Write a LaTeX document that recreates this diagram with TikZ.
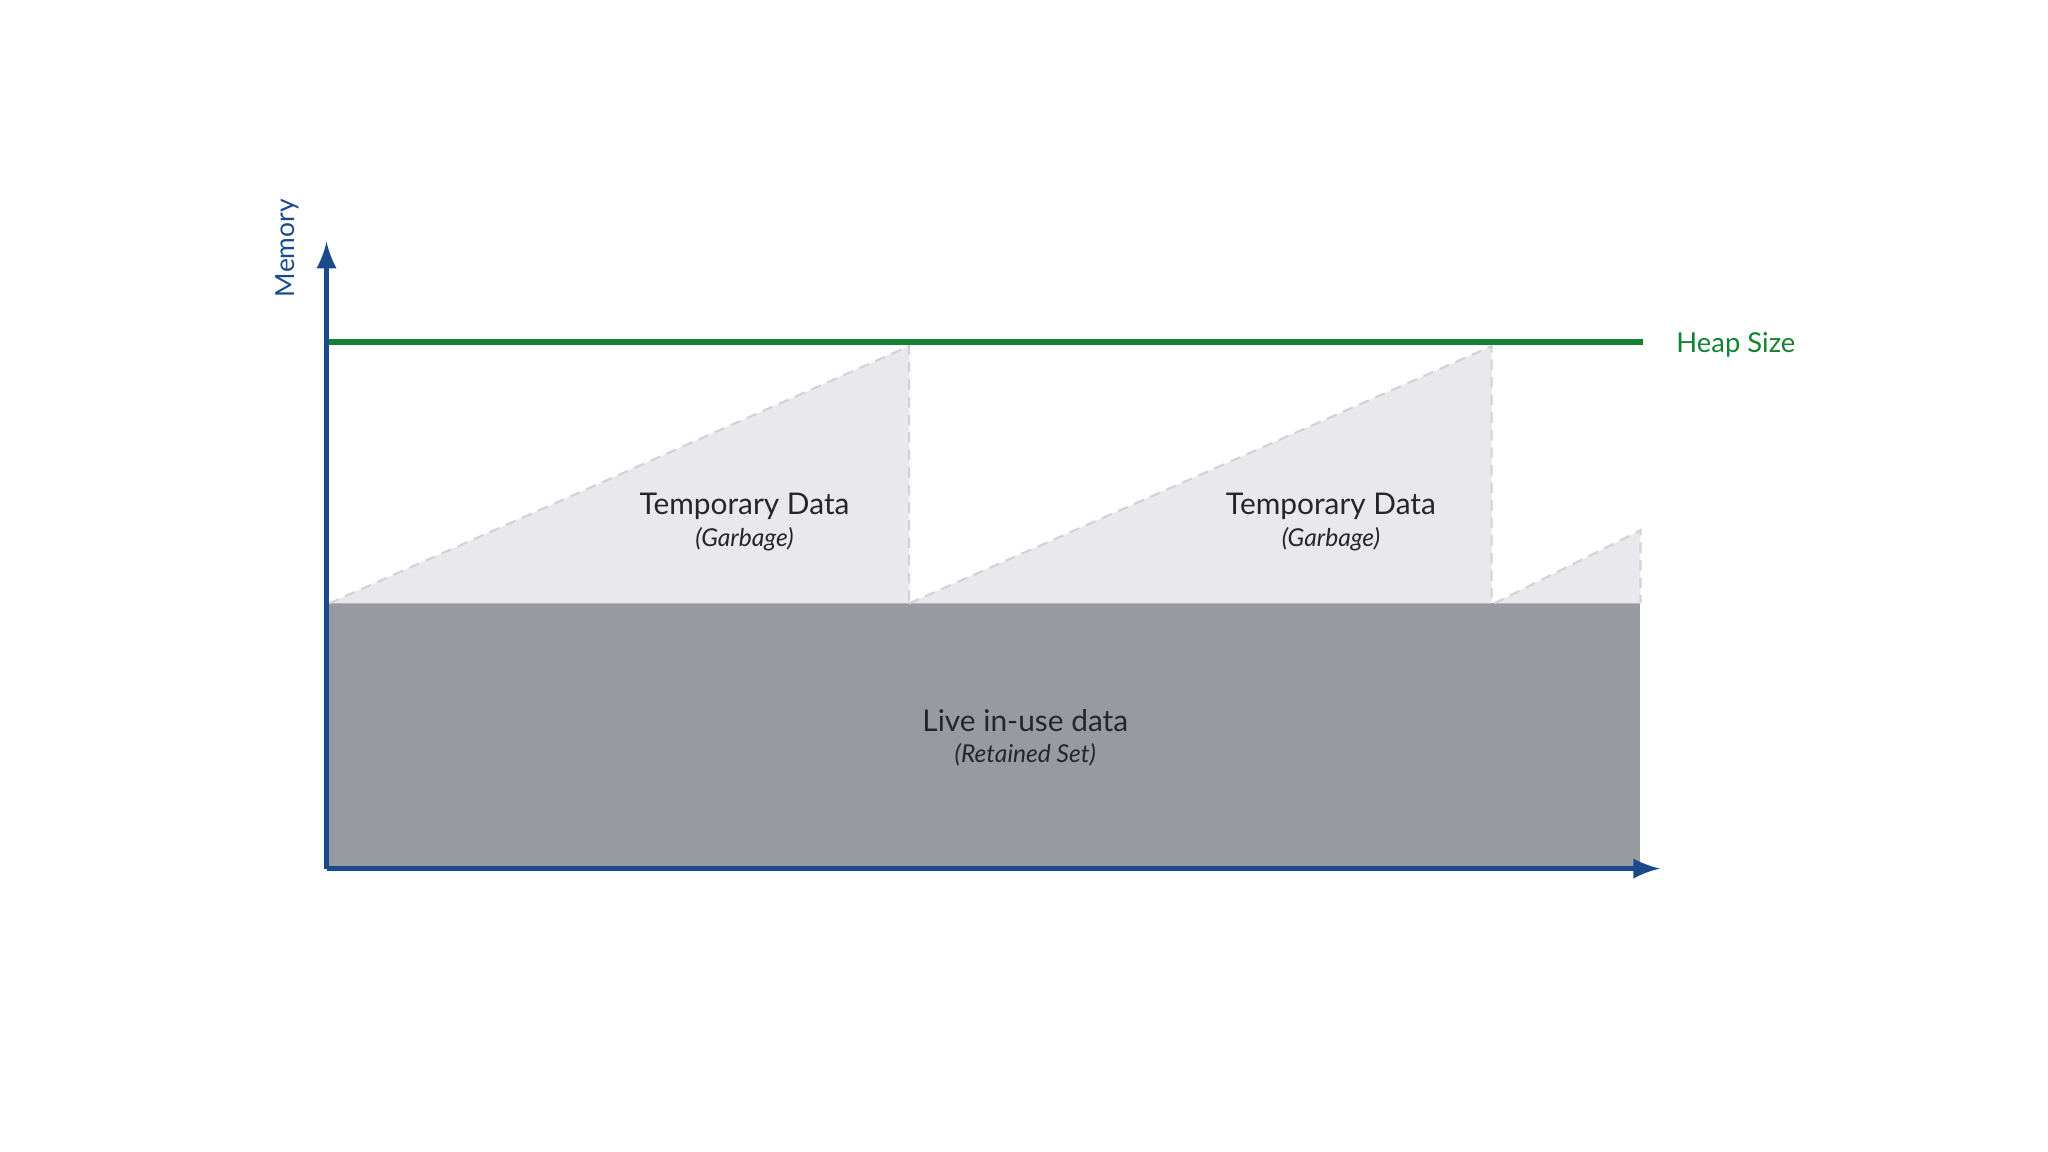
\documentclass[tikz,border=0pt]{standalone}
\usepackage{fontspec}
\setmainfont{Lato}
\usepackage{tikz}
\definecolor{axisblue}{RGB}{25,75,140}
\definecolor{heapgreen}{RGB}{20,130,50}
\definecolor{livegray}{RGB}{152,154,162}
\definecolor{tempgray}{RGB}{233,232,236}
\definecolor{edgegray}{RGB}{210,210,214}
\begin{document}
\begin{tikzpicture}[x=0.013061cm,y=-0.013061cm,
    tempfill/.style={fill=tempgray,draw=edgegray,densely dashed,line width=0.6pt},
    bigtext/.style={font=\fontsize{8.5}{10}\selectfont,text=black!85},
    smalltext/.style={font=\fontsize{7}{8}\selectfont\itshape,text=black!85}]
      \useasboundingbox (0,0) rectangle (1568,882);
      % retained set
      \fill[livegray] (252,462) rectangle (1256,665);
      % garbage triangles
      \foreach \a/\b in {252/696,696/1142}{
        \filldraw[tempfill] (\a,462) -- (\b,265) -- (\b,462);}
      \filldraw[tempfill] (1144,462) -- (1256,406) -- (1256,462);
      % heap size
      \coordinate (heapstart) at (250,262);
      \node[anchor=west,text=heapgreen,font=\fontsize{7.8}{9}\selectfont] (heap) at (1274,264) {Heap Size};
      \draw[heapgreen,line width=1.6pt] (heapstart) -- (1258,262);
      % axes
      \coordinate (origin) at (250,665);
      \coordinate (ytip) at (250,185);
      \coordinate (xtip) at (1271,665);
      \draw[axisblue,line width=1.6pt,-latex] (origin) -- (ytip);
      \draw[axisblue,line width=1.6pt,-latex] (origin) -- (xtip);
      \node[rotate=90,text=axisblue,font=\fontsize{7.5}{9}\selectfont] (memory) at (220,190) {Memory};
      % labels
      \foreach \x/\n in {570/one,1019/two}{
        \node[bigtext] (temp\n) at (\x,388) {Temporary Data};
        \node[smalltext] (garb\n) at (\x,413) {(Garbage)};}
      \node[bigtext] (live) at (785,552) {Live in-use data};
      \node[smalltext] (retained) at (785,578) {(Retained Set)};
\end{tikzpicture}
\end{document}
